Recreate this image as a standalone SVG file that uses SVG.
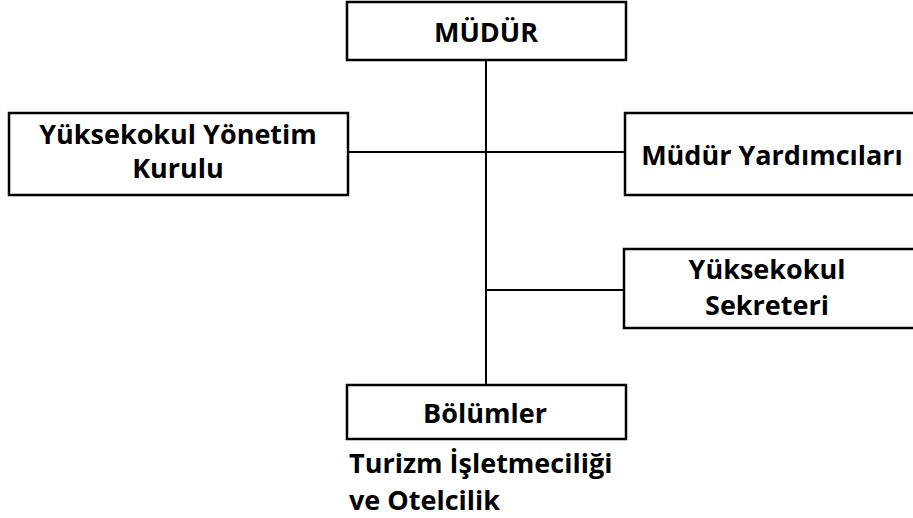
<svg xmlns="http://www.w3.org/2000/svg" width="913" height="518" viewBox="0 0 913 518">
<style>
.box{fill:#fff;stroke:#000;stroke-width:2.5}
.ln{stroke:#000;stroke-width:2;fill:none}
.t{font-family:"Open Sans","Liberation Sans",sans-serif;font-weight:bold;font-size:27px;fill:#000;text-anchor:middle}
.tl{text-anchor:start}
</style>
<rect width="913" height="518" fill="#fff"/>
<g id="connectors">
<line class="ln" x1="486" y1="60" x2="486" y2="385"/>
<line class="ln" x1="348" y1="152" x2="625" y2="152"/>
<line class="ln" x1="486" y1="290" x2="624" y2="290"/>
</g>
<g id="mudur">
<rect class="box" x="347" y="2" width="279" height="58"/>
<text class="t" x="486" y="42">MÜDÜR</text>
</g>
<g id="yonetim-kurulu">
<rect class="box" x="9" y="113" width="339" height="82"/>
<text class="t" x="178" y="144">Yüksekokul Yönetim</text>
<text class="t" x="178" y="178">Kurulu</text>
</g>
<g id="mudur-yardimcilari">
<rect class="box" x="625" y="113" width="300" height="82"/>
<text class="t" x="772" y="165">Müdür Yardımcıları</text>
</g>
<g id="sekreter">
<rect class="box" x="624" y="249" width="300" height="79"/>
<text class="t" x="767" y="279">Yüksekokul</text>
<text class="t" x="767" y="315">Sekreteri</text>
</g>
<g id="bolumler">
<rect class="box" x="347" y="385" width="279" height="54"/>
<text class="t" x="485" y="423">Bölümler</text>
<text class="t tl" x="349" y="473">Turizm İşletmeciliği</text>
<text class="t tl" x="349" y="510">ve Otelcilik</text>
</g>
</svg>
